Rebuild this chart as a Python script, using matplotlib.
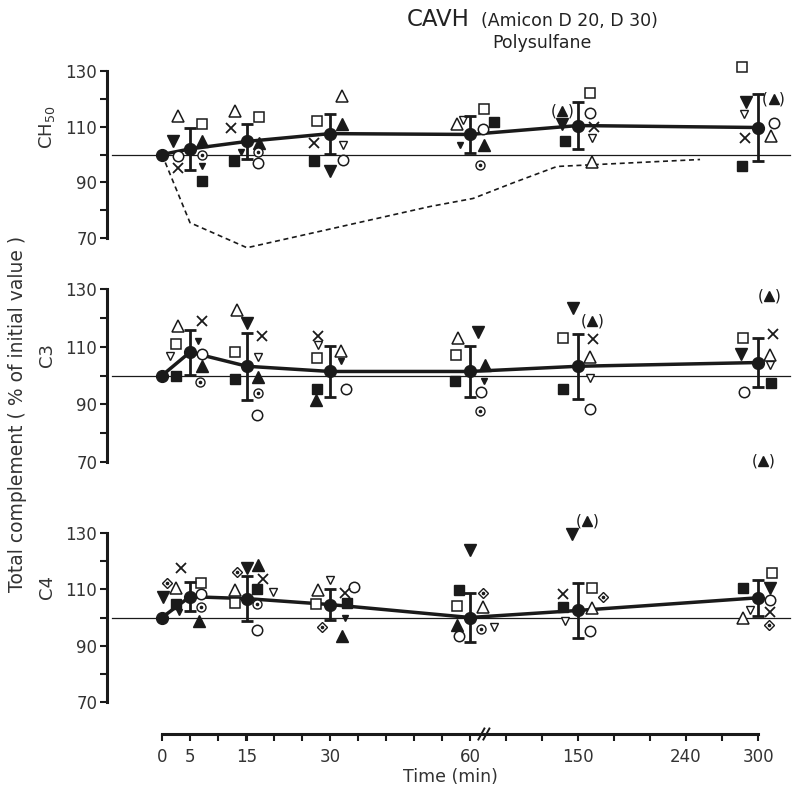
import matplotlib
matplotlib.use('Agg')
import matplotlib.pyplot as plt
import numpy as np

# eje de tiempo con corte: posiciones de los valores rotulados
knot_t = [0, 5, 15, 30, 60, 150, 240, 300]
knot_p = [162, 190, 247, 330, 470, 578, 686, 758]
def pos(t):
    return np.interp(t, knot_t, knot_p)

mean_t = [0, 5, 15, 30, 60, 150, 300]

# CH50
ch50_mean = [100, 102, 104.7, 107.5, 107.2, 110.4, 109.7]
ch50_sd = [0, 7.7, 6.3, 7.2, 6.5, 8.6, 12]
ch50_t = [5]*9 + [15]*8 + [30]*8 + [60]*8 + [150]*8 + [300]*8
ch50_kind = ['tri', 'inv', 'o', 'x', 'sq', 'Tri', 'od', 'inv_s', 'Sq',
             'tri', 'x', 'sq', 'Tri', 'inv_s', 'Sq', 'od', 'o',
             'sq', 'x', 'Sq', 'tri', 'Tri', 'inv_o', 'o', 'inv',
             'tri', 'inv_o', 'sq', 'Sq', 'o', 'inv_s', 'Tri', 'od',
             'pTri', 'inv', 'Sq', 'sq', 'o', 'x', 'inv_o', 'tri',
             'sq', 'inv', 'inv_o', 'pTri', 'o', 'x', 'tri', 'Sq']
ch50_val = [113.7, 104.7, 99.6, 95.3, 110.8, 105, 100, 95.7, 90.3,
            115.5, 109.7, 113.3, 104.3, 101, 97.5, 101, 97,
            111.9, 104.3, 97.8, 120.9, 110.8, 103.3, 98.2, 93.9,
            110.8, 112.5, 116.2, 111.5, 109.3, 103.3, 103.3, 96.4,
            115.8, 111, 104.7, 122, 115, 110, 106, 97.2,
            131.3, 118.7, 114.4, 119.8, 111.2, 106, 106.5, 95.7]
ch50_side = [-1, -1.4, -1, -1, 1, 1, 1, 1, 1,
             -1, -1.3, 1, 1, -0.5, -1.1, 0.9, 0.9,
             -1.1, -1.3, -1.3, 1, 1, 1.1, 1.1, 0,
             -1.1, -0.6, 1.2, 2, 1.1, -0.8, 1.2, 0.8,
             -1.3, -1.3, -1.1, 1, 1, 1.3, 1.2, 1.2,
             -1.3, -1, -1.2, 1.3, 1.3, -1.1, 1.1, -1.3]
# curva discontinua (CH50)
dash_t = [0, 5, 15, 51.4, 62.5, 95.8, 132.5, 251.7]
dash_v = [100, 75.5, 66.5, 81.3, 84.2, 89.8, 95.7, 98.2]

# C3
c3_mean = [100, 108.1, 103.2, 101.4, 101.4, 103.2, 104.5]
c3_sd = [0, 7.8, 11.7, 8.8, 8.8, 11.2, 8.5]
c3_t = [5]*9 + [15]*9 + [30]*8 + [60]*8 + [150]*8 + [300]*9
c3_kind = ['tri', 'x', 'sq', 'inv_s', 'inv_o', 'Sq', 'o', 'Tri', 'od',
           'tri', 'inv', 'x', 'sq', 'inv_o', 'Sq', 'Tri', 'od', 'o',
           'x', 'inv_o', 'sq', 'tri', 'inv_s', 'Sq', 'Tri', 'o',
           'tri', 'inv', 'sq', 'Tri', 'inv_s', 'Sq', 'o', 'od',
           'inv', 'pTri', 'sq', 'x', 'tri', 'inv_o', 'Sq', 'o',
           'pTri', 'sq', 'x', 'inv', 'tri', 'inv_o', 'Sq', 'o', 'pTri']
c3_val = [117.2, 119, 110.9, 112, 106.7, 100, 107.4, 103.2, 97.9,
          122.8, 118.3, 113.7, 108.1, 106.3, 98.9, 99.6, 94, 86.3,
          113.7, 110.5, 106, 108.4, 104.9, 95.4, 91.6, 95.4,
          113, 115, 107, 103.5, 98, 98.2, 94.4, 87.7,
          123.5, 119, 113, 112.6, 106.3, 99, 95.4, 88.4,
          127.4, 113, 114.4, 107.4, 107, 103.5, 97.5, 94.4, 70.5]
c3_side = [-1, 1, -1.2, 0.7, -1.7, -1.2, 1, 1, 0.8,
           -0.8, 0, 1.25, -1, 0.9, -1, 0.9, 0.9, 0.8,
           -1, -1, -1.1, 0.9, 0.9, -1.1, -1.2, 1.3,
           -1, 0.7, -1.2, 1.25, 1.2, -1.25, 0.9, 0.8,
           -0.4, 1.2, -1.25, 1.25, 1, 1, -1.25, 1,
           0.9, -1.25, 1.25, -1.4, 1, 1, 1.1, -1.2, 0.4]

# C4
c4_mean = [100, 107.4, 106.7, 104.6, 100, 102.5, 107]
c4_sd = [0, 5.2, 8, 5.4, 8.6, 9.8, 6.3]
c4_t = [5]*10 + [15]*10 + [30]*9 + [60]*9 + [150]*9 + [300]*8
c4_kind = ['x', 'dd', 'tri', 'inv', 'Sq', 'inv_s', 'sq', 'o', 'od', 'Tri',
           'dd', 'inv', 'Tri', 'x', 'tri', 'Sq', 'inv_o', 'sq', 'od', 'o',
           'inv_o', 'tri', 'o', 'x', 'sq', 'Sq', 'inv_s', 'dd', 'Tri',
           'inv', 'Sq', 'dd', 'sq', 'tri', 'Tri', 'o', 'od', 'inv_o',
           'pTri', 'inv', 'x', 'Sq', 'sq', 'dd', 'tri', 'inv_o', 'o',
           'sq', 'Sq', 'inv', 'o', 'x', 'tri', 'inv_o', 'dd']
c4_val = [117.5, 112.3, 110.5, 107.4, 104.9, 101.8, 112.3, 108.4, 103.9, 98.6,
          116.1, 117.5, 118.6, 113.7, 109.8, 110.2, 109.1, 105.3, 104.9, 95.4,
          113.3, 109.8, 110.9, 108.8, 104.9, 105.3, 100, 96.8, 93.3,
          123.9, 109.8, 108.8, 104.2, 103.9, 97.5, 93.3, 95.8, 96.8,
          134.4, 129.8, 108.4, 103.9, 110.5, 107.4, 103.5, 98.6, 95.1,
          115.8, 110.5, 110.5, 106.3, 101.8, 100, 102.8, 97.5]
c4_side = [-0.75, -1.9, -1.2, -2.25, -1.2, -0.9, 0.9, 0.9, 0.9, 0.75,
           -0.8, 0, 0.9, 1.3, -1, 0.8, 2.2, -1, 0.8, 0.8,
           0, -1, 2, 1.25, -1.2, 1.4, 1.25, -0.7, 1,
           0, -0.9, 1.1, -1.1, 1.1, -1.1, -0.9, 0.9, 2,
           0.75, -0.5, -1.25, -1.25, 1.2, 2.1, 1.2, -1.1, 1,
           1.2, -1.25, 1, 1, 1, -1.25, -0.7, 0.9]

tick_t = [0, 5, 15, 30, 60, 150, 240, 300]
JIT = 12
INK = '#1a1a1a'

estilos = {
    'tri': dict(marker='^', ms=8, mfc='white', mec=INK, mew=1.1),
    'Tri': dict(marker='^', ms=8, mfc=INK, mec=INK),
    'pTri': dict(marker='^', ms=6.5, mfc=INK, mec=INK),
    'inv': dict(marker='v', ms=8, mfc=INK, mec=INK),
    'inv_s': dict(marker='v', ms=5, mfc=INK, mec=INK),
    'inv_o': dict(marker='v', ms=5.5, mfc='white', mec=INK, mew=1),
    'sq': dict(marker='s', ms=7, mfc='white', mec=INK, mew=1.1),
    'Sq': dict(marker='s', ms=7, mfc=INK, mec=INK),
    'o': dict(marker='o', ms=7.5, mfc='white', mec=INK, mew=1.1),
    'od': dict(marker='o', ms=6.5, mfc='white', mec=INK, mew=1),
    'x': dict(marker='x', ms=7, mec=INK, mew=1.3),
    'dd': dict(marker='D', ms=5.5, mfc='white', mec=INK, mew=1),
}

W, H = 794, 787
fig = plt.figure(figsize=(W / 100, H / 100), dpi=100)
plt.rcParams['font.family'] = ['DejaVu Sans']

LO, HI = 55, 140

def panel(top_px, bot_px):
    unit = (bot_px - top_px) / 60
    ytop = top_px - (HI - 130) * unit
    ybot = bot_px + (70 - LO) * unit
    ax = fig.add_axes([0, 1 - ybot / H, 1, (ybot - ytop) / H])
    ax.set_facecolor('none')
    ax.set_xlim(0, W)
    ax.set_ylim(LO, HI)
    for s in ['top', 'right', 'bottom']:
        ax.spines[s].set_visible(False)
    ax.spines['left'].set_position(('data', 107))
    ax.spines['left'].set_bounds(70, 130)
    ax.spines['left'].set_linewidth(2.2)
    ax.spines['left'].set_color(INK)
    ax.set_yticks([70, 90, 110, 130])
    ax.set_yticks([80, 100, 120], minor=True)
    ax.tick_params(axis='y', which='both', direction='out', length=5,
                   width=1.5, labelsize=12, pad=2, colors=INK, labelcolor='#333')
    ax.set_xticks([])
    return ax

def dibujar(ax, t, val, kind, side, mean, sd):
    ax.plot([112, 790], [100, 100], color=INK, lw=0.9, zorder=1)
    x = pos(np.array(t)) + JIT * np.array(side)
    val = np.array(val)
    kind = np.array(kind)
    for k, st in estilos.items():
        m = kind == k
        if m.any():
            ax.plot(x[m], val[m], ls='none', clip_on=False, zorder=3, **st)
            if k in ('od', 'dd'):
                ax.plot(x[m], val[m], ls='none', marker='o', ms=1.6,
                        color=INK, clip_on=False, zorder=4)
    # paréntesis alrededor de los valores dudosos
    m = kind == 'pTri'
    for xi, yi in zip(x[m], val[m]):
        ax.text(xi - 8.5, yi, '(', ha='center', va='center', fontsize=11,
                color=INK, zorder=4, clip_on=False)
        ax.text(xi + 8.5, yi, ')', ha='center', va='center', fontsize=11,
                color=INK, zorder=4, clip_on=False)
    xm = pos(np.array(mean_t))
    ax.plot(xm, mean, color=INK, lw=2.5, zorder=2, clip_on=False)
    sd = np.array(sd)
    ok = sd > 0
    ax.errorbar(xm[ok], np.array(mean)[ok], yerr=sd[ok], fmt='none',
                ecolor=INK, elinewidth=2, capsize=4, capthick=2, zorder=4)
    ax.plot(xm, mean, ls='none', marker='o', ms=8.5, color=INK, zorder=5,
            clip_on=False)

ax1 = panel(71, 238)
ax2 = panel(289, 462)
ax3 = panel(533, 702)

ax1.plot(pos(np.array(dash_t)), dash_v, color=INK, lw=1.2, ls=(0, (3, 2.2)), zorder=2)
dibujar(ax1, ch50_t, ch50_val, ch50_kind, ch50_side, ch50_mean, ch50_sd)
dibujar(ax2, c3_t, c3_val, c3_kind, c3_side, c3_mean, c3_sd)
dibujar(ax3, c4_t, c4_val, c4_kind, c4_side, c4_mean, c4_sd)

# eje de tiempo
axt = fig.add_axes([0, 1 - 734 / H, 1, 0.02])
axt.set_facecolor('none')
axt.set_xlim(0, W)
axt.set_yticks([])
for s in ['top', 'right', 'left']:
    axt.spines[s].set_visible(False)
axt.spines['bottom'].set_bounds(pos(0), pos(300))
axt.spines['bottom'].set_linewidth(2.2)
axt.spines['bottom'].set_color(INK)
axt.set_xticks(pos(np.array(tick_t)))
axt.set_xticklabels([str(v) for v in tick_t])
menores = list(np.linspace(pos(0), pos(60), 12)) + list(pos(np.arange(90, 301, 30)))
axt.set_xticks(menores, minor=True)
axt.tick_params(axis='x', which='both', direction='out', length=5, width=1.5,
                labelsize=12, pad=5, colors=INK, labelcolor='#333')
bx = pos(72)
for d in (-3, 2):
    axt.plot([bx + d - 3, bx + d + 3], [-0.35, 0.35], color=INK, lw=1.4,
             transform=axt.get_xaxis_transform(), clip_on=False)
fig.text(450 / W, 1 - 777 / H, 'Time (min)', ha='center', va='center',
         fontsize=12.5, color='#333')

# rótulos
fig.text(18 / W, 1 - 414 / H, 'Total complement ( % of initial value )',
         rotation=90, ha='center', va='center', fontsize=13.5, color='#333')
fig.text(47 / W, 1 - 127 / H, r'CH$_{50}$', rotation=90, ha='center',
         va='center', fontsize=13, color='#333')
fig.text(47 / W, 1 - 355 / H, 'C3', rotation=90, ha='center', va='center',
         fontsize=13, color='#333')
fig.text(47 / W, 1 - 587 / H, 'C4', rotation=90, ha='center', va='center',
         fontsize=13, color='#333')

fig.text(407 / W, 1 - 20 / H, 'CAVH', ha='left', va='center', fontsize=16.5,
         color='#222')
fig.text(481 / W, 1 - 21 / H, '(Amicon D 20, D 30)', ha='left', va='center',
         fontsize=12.5, color='#222')
fig.text(542 / W, 1 - 43 / H, 'Polysulfane', ha='center', va='center',
         fontsize=12.5, color='#222')

fig.savefig('out.png', dpi=100, facecolor='white')
